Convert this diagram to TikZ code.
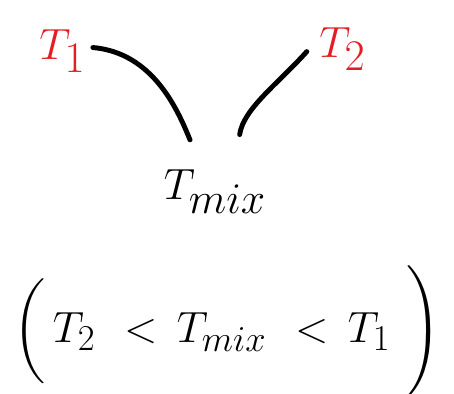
\documentclass[tikz,border=0pt]{standalone}
\usepackage{amsmath}
\usetikzlibrary{calc, positioning}
\definecolor{inkred}{RGB}{226,30,36}
\tikzset{
  label/.style={inner sep=1pt, font=\fontsize{34}{40}\selectfont},
  redlabel/.style={label, text=inkred, font=\fontsize{42}{48}\selectfont},
  stroke/.style={line width=2.8pt, line cap=round}
}
\begin{document}
\begin{tikzpicture}[scale=1]
\useasboundingbox (0,0) rectangle (9.08,7.88);
% Inlet temperatures
\node[redlabel] (t1) at (1.25,6.85) {$T_1$};
\node[redlabel] (t2) at (6.85,6.9) {$T_2$};
% Mixed temperature
\node[label] (tmix) at (4.3,4.05) {$T_{mix}$};
% Strokes down to the mix
\draw[stroke, shorten <=3pt, shorten >=17pt] (t1.10) to[out=-5, in=112] (tmix.120);
\draw[stroke, shorten <=9pt, shorten >=19pt] (t2.160) to[out=228, in=82] (tmix.50);
% Ordering of the temperatures
\node[label, font=\fontsize{31}{36}\selectfont] (order) at (4.55,1.25)
  {$\bigg(\,T_2\ <\,T_{mix}\ <\,T_1\ \Bigg)$};
\end{tikzpicture}
\end{document}
